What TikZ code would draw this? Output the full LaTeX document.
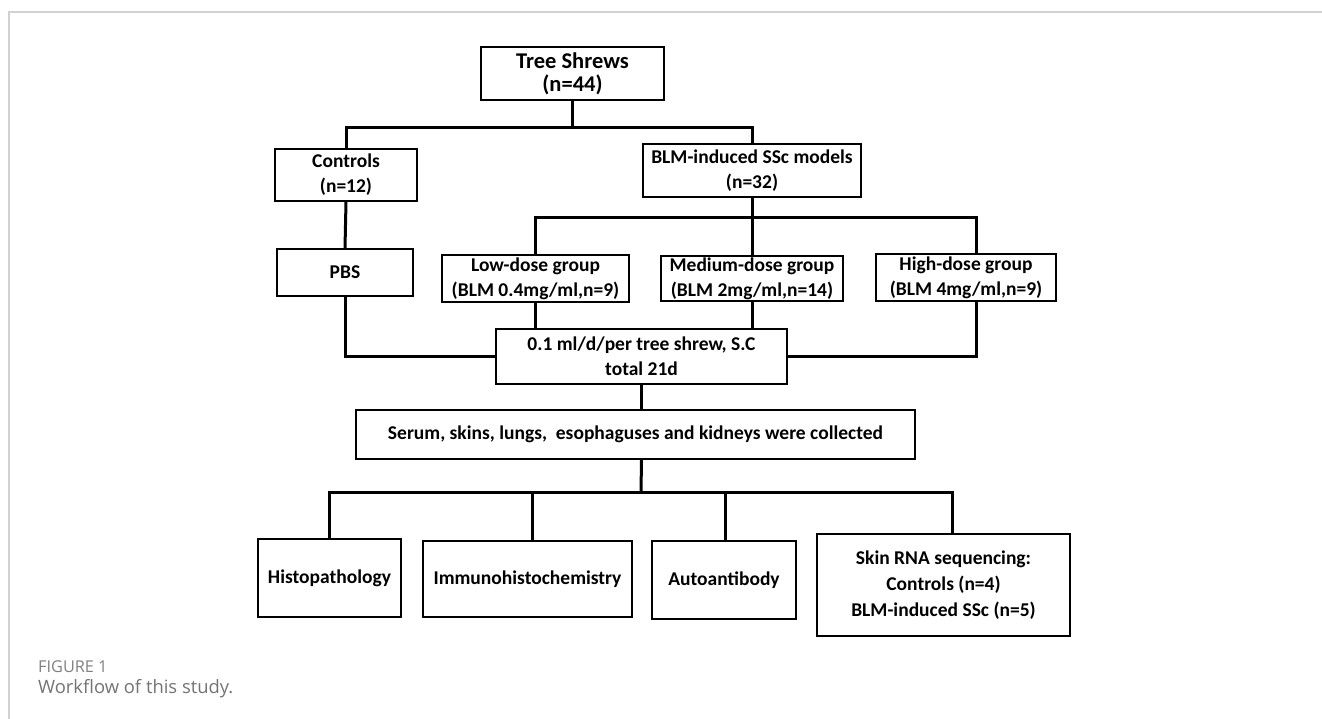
\documentclass[tikz,border=0pt]{standalone}
\usepackage{fontspec}
\setmainfont{Carlito}
\newfontfamily\capfont{Open Sans}
\usetikzlibrary{calc}

\begin{document}
\begin{tikzpicture}[x=1pt, y=-1pt,
	sqnode/.style={rectangle, draw=black, line width=1.5pt, fill=white, align=center, inner sep=0pt, font=\bfseries\fontsize{19.5}{25}\selectfont},
	link/.style={line width=3pt, line join=miter}]
	\useasboundingbox (0,0) rectangle (1322,719);
	% frame of the figure page
	\draw[black!18, line width=1.5pt] (1322,12) -- (9,12) -- (9,719);

	\node[sqnode, minimum width=183pt, minimum height=53pt, font=\bfseries\fontsize{22.5}{23}\selectfont] (tree) at (572.5,73.5) {Tree Shrews\\(n=44)};
	\node[sqnode, minimum width=142pt, minimum height=52pt] (ctrl) at (346,175) {Controls\\(n=12)};
	\node[sqnode, minimum width=218pt, minimum height=53pt] (blm) at (752,170.5) {BLM-induced SSc models\\(n=32)};
	\node[sqnode, minimum width=136pt, minimum height=47pt] (pbs) at (345,272.5) {PBS};
	\node[sqnode, minimum width=187pt, minimum height=47pt] (low) at (535.5,278.5) {Low-dose group\\(BLM 0.4mg/ml,n=9)};
	\node[sqnode, minimum width=182pt, minimum height=45pt] (med) at (752,278.5) {Medium-dose group\\(BLM 2mg/ml,n=14)};
	\node[sqnode, minimum width=180pt, minimum height=47pt] (high) at (966,277.5) {High-dose group\\(BLM 4mg/ml,n=9)};
	\node[sqnode, minimum width=291pt, minimum height=55pt] (dose) at (641.5,356.5) {0.1 ml/d/per tree shrew, S.C\\total 21d};
	\node[sqnode, minimum width=559pt, minimum height=49pt] (serum) at (635.5,434.5) {Serum, skins, lungs,\ \ esophaguses and kidneys were collected};
	\node[sqnode, minimum width=143pt, minimum height=78pt] (histo) at (329.5,578) {Histopathology};
	\node[sqnode, minimum width=209pt, minimum height=76pt] (immuno) at (527.5,579) {Immunohistochemistry};
	\node[sqnode, minimum width=144pt, minimum height=78pt] (auto) at (724,580) {Autoantibody};
	\node[sqnode, minimum width=253pt, minimum height=102pt, font=\bfseries\fontsize{19.5}{26}\selectfont] (skin) at (943.5,585) {Skin RNA sequencing:\\Controls (n=4)\\BLM-induced SSc (n=5)};

	\coordinate (split1) at (572.5,127.5);
	\coordinate (split2) at (752,218);
	\coordinate (split3) at (641,492);
	\coordinate (hitop) at ([xshift=10.5pt]high.north);
	\coordinate (hibot) at ([xshift=10.5pt]high.south);
	\coordinate (skintop) at ([xshift=8.5pt]skin.north);

	\draw[link] (tree.south) -- (split1);
	\draw[link] (ctrl.north) |- (split1) -| (blm.north);
	\draw[link] (ctrl.south) -- (pbs.north);
	\draw[link] (blm.south) -- (med.north);
	\draw[link] (low.north) |- (split2) -| (hitop);
	\draw[link] (pbs.south) |- (dose.west);
	\draw[link] (hibot) |- (dose.east);
	\draw[link] (low.south) -- (low.south |- dose.north);
	\draw[link] (med.south) -- (med.south |- dose.north);
	\draw[link] (dose.south) -- (dose.south |- serum.north);
	\draw[link] (dose.south |- serum.south) -- (split3);
	\draw[link] (histo.north) |- (split3) -| (skintop);
	\draw[link] ([xshift=4.5pt]immuno.north) -- ([xshift=4.5pt]immuno.north |- split3);
	\draw[link] ([xshift=1pt]auto.north) -- ([xshift=1pt]auto.north |- split3);

	% caption
	\node[anchor=west, inner sep=0pt, text=black!50, font=\capfont\fontsize{16.3}{18}\selectfont] (fig) at (38,667) {FIGURE 1};
	\node[anchor=west, inner sep=0pt, text=black!55, font=\capfont\fontsize{18.4}{22}\selectfont] (cap) at (38,689) {Workflow of this study.};
\end{tikzpicture}
\end{document}
